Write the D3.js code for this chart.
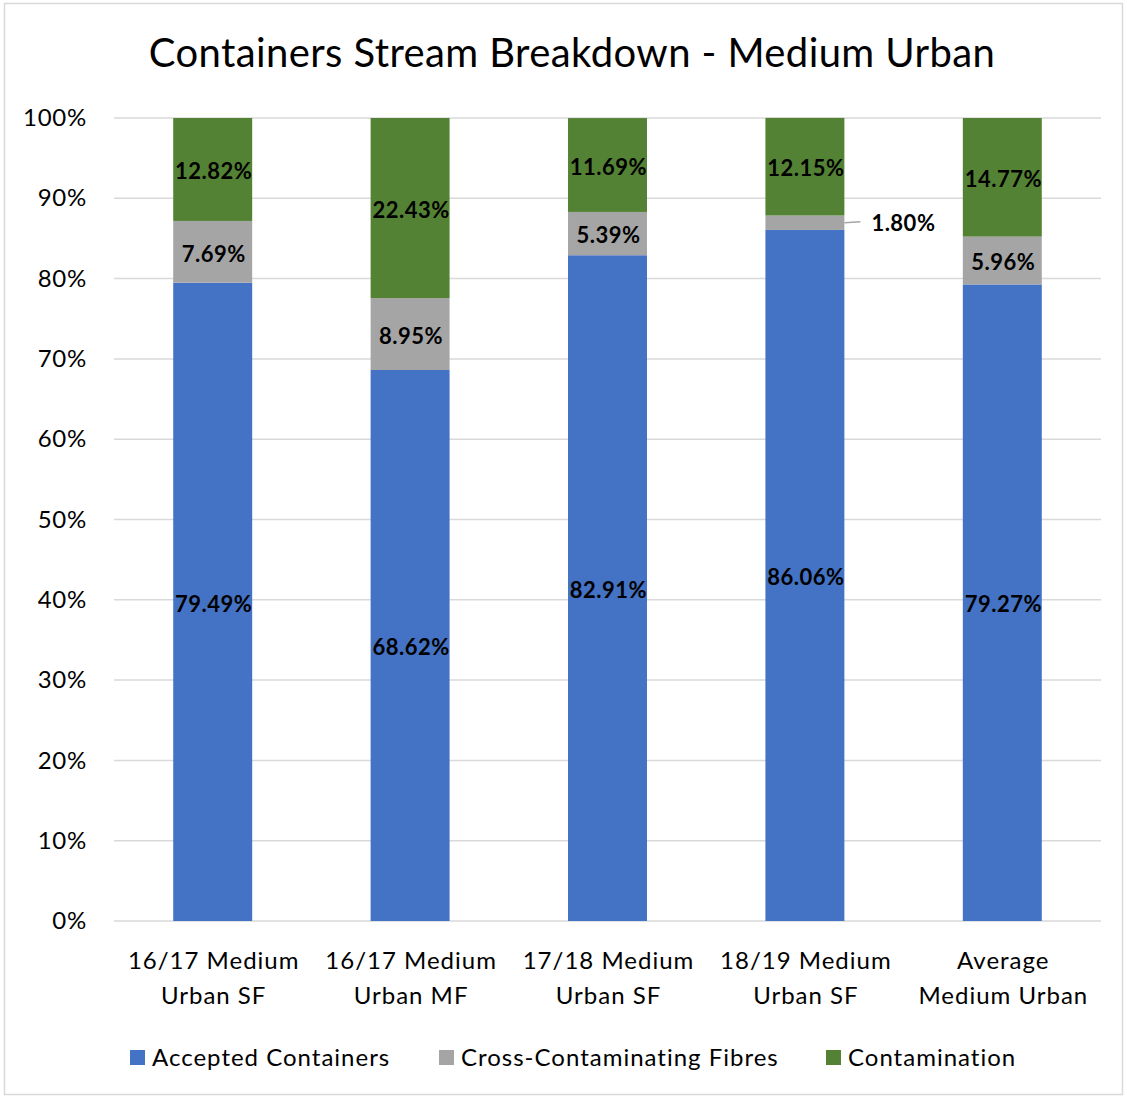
<!DOCTYPE html>
<html>
<head>
<meta charset="utf-8">
<script src="https://cdn.jsdelivr.net/npm/d3@7"></script>
<style>
  body { margin: 0; background: #fff; }
  svg { font-family: Lato, "Open Sans", sans-serif; }
</style>
</head>
<body>
<svg id="chart" width="1127" height="1097"></svg>
<script>
// chart data
const categories = [
  ["16/17 Medium", "Urban SF"],
  ["16/17 Medium", "Urban MF"],
  ["17/18 Medium", "Urban SF"],
  ["18/19 Medium", "Urban SF"],
  ["Average", "Medium Urban"]
];
const seriesNames = ["Accepted Containers", "Cross-Contaminating Fibres", "Contamination"];
const accepted = [79.49, 68.62, 82.91, 86.06, 79.27];
const fibres = [7.69, 8.95, 5.39, 1.80, 5.96];
const contamination = [12.82, 22.43, 11.69, 12.15, 14.77];
const yTicks = [0, 10, 20, 30, 40, 50, 60, 70, 80, 90, 100];
const colors = ["#4472c4", "#a5a5a5", "#548235"];

const svg = d3.select("#chart");
const W = 1127, H = 1097;
const m = { left: 114, right: 26, top: 118, bottom: 176 };

// outer border
svg.append("rect")
  .attr("x", 4.5).attr("y", 3.5)
  .attr("width", W - 9).attr("height", H - 6)
  .attr("fill", "#fff").attr("stroke", "#d9d9d9").attr("stroke-width", 1.5);

svg.append("text")
  .attr("x", 572).attr("y", 67)
  .attr("text-anchor", "middle")
  .attr("font-size", 40)
  .attr("letter-spacing", 0.4)
  .attr("fill", "#000")
  .text("Containers Stream Breakdown - Medium Urban");

const x = d3.scaleBand()
  .domain(d3.range(categories.length))
  .range([m.left, W - m.right])
  .paddingInner(0.6).paddingOuter(0.3);

const y = d3.scaleLinear().domain([0, 100]).range([H - m.bottom, m.top]);

// gridlines
svg.append("g")
  .selectAll("line")
  .data(yTicks)
  .join("line")
  .attr("x1", m.left).attr("x2", W - m.right)
  .attr("y1", d => y(d)).attr("y2", d => y(d))
  .attr("stroke", "#d9d9d9").attr("stroke-width", 1.5);

const yaxis = d3.axisLeft(y).tickValues(yTicks).tickFormat(d => d + "%").tickSize(0).tickPadding(27);
svg.append("g")
  .attr("transform", `translate(${m.left},0)`)
  .call(yaxis)
  .call(g => g.select(".domain").remove())
  .selectAll("text")
  .attr("font-size", 24)
  .attr("letter-spacing", 0.75)
  .attr("font-family", "Lato, sans-serif")
  .attr("fill", "#000");

// stack
const rows = categories.map((c, i) => ({ i, a: accepted[i], f: fibres[i], c: contamination[i] }));
const stack = d3.stack().keys(["a", "f", "c"]);
const series = stack(rows);

const groups = svg.append("g").selectAll("g")
  .data(series)
  .join("g")
  .attr("fill", (d, i) => colors[i]);

groups.selectAll("rect")
  .data(d => d)
  .join("rect")
  .attr("x", d => x(d.data.i))
  .attr("width", x.bandwidth())
  .attr("y", d => y(d[1]))
  .attr("height", d => y(d[0]) - y(d[1]));

// data labels
series.forEach((s, si) => {
  s.forEach(d => {
    const v = d[1] - d[0];
    const cx = x(d.data.i) + x.bandwidth() / 2;
    const cy = (y(d[0]) + y(d[1])) / 2;
    if (v < 3) {
      // small segment: label outside with leader line
      const lx = x(d.data.i) + x.bandwidth();
      svg.append("line")
        .attr("x1", lx).attr("x2", lx + 16)
        .attr("y1", cy).attr("y2", cy - 1)
        .attr("stroke", "#a5a5a5").attr("stroke-width", 1.5);
      svg.append("text")
        .attr("x", lx + 27).attr("y", cy + 1)
        .attr("dy", "0.35em")
        .attr("font-size", 22).attr("font-weight", "bold")
        .attr("letter-spacing", 0.5)
        .text(v.toFixed(2) + "%");
    } else {
      svg.append("text")
        .attr("x", cx + 1).attr("y", cy + 2)
        .attr("dy", "0.35em")
        .attr("text-anchor", "middle")
        .attr("font-size", 22).attr("font-weight", "bold")
        .attr("letter-spacing", 0.5)
        .attr("fill", "#000")
        .text(v.toFixed(2) + "%");
    }
  });
});

// x labels
const xl = svg.append("g").selectAll("text")
  .data(categories)
  .join("text")
  .attr("x", (d, i) => x(i) + x.bandwidth() / 2 + 1)
  .attr("y", 969)
  .attr("text-anchor", "middle")
  .attr("font-size", 24)
  .attr("letter-spacing", 1)
  .attr("fill", "#000");
xl.selectAll("tspan")
  .data(d => d)
  .join("tspan")
  .attr("x", function () { return this.parentNode.getAttribute("x"); })
  .attr("dy", (d, i) => i === 0 ? 0 : 35)
  .text(d => d);

// legend
const legendX = [130, 439, 826];
const lg = svg.append("g").selectAll("g")
  .data(seriesNames)
  .join("g")
  .attr("transform", (d, i) => `translate(${legendX[i]},1050)`);
lg.append("rect").attr("width", 15).attr("height", 15).attr("fill", (d, i) => colors[i]);
lg.append("text")
  .attr("x", 22).attr("y", 8)
  .attr("dy", "0.35em")
  .attr("font-size", 24)
  .attr("letter-spacing", 1)
  .text(d => d);
</script>
</body>
</html>
